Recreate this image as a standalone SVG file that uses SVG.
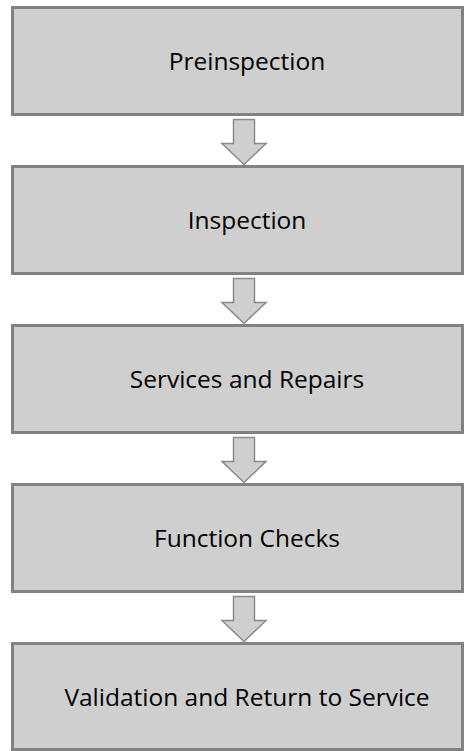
<svg xmlns="http://www.w3.org/2000/svg" width="476" height="751" viewBox="0 0 476 751">
<style>
.box{fill:#d0cfd0;stroke:#828282;stroke-width:3}
.lbl{font-family:"Open Sans",Lato,sans-serif;font-size:24.5px;fill:#000;text-anchor:middle}
.arr{fill:#d0cfd0;stroke:#8a8a8a;stroke-width:1.5;stroke-linejoin:miter}
</style>
<rect width="476" height="751" fill="#fff"/>
<g id="n1"><rect class="box" x="12.5" y="7.5" width="450" height="107"/><text class="lbl" x="247" y="70">Preinspection</text></g>
<g id="n2"><rect class="box" x="12.5" y="166.5" width="450" height="107"/><text class="lbl" x="247" y="229">Inspection</text></g>
<g id="n3"><rect class="box" x="12.5" y="325.5" width="450" height="107"/><text class="lbl" x="247" y="388">Services and Repairs</text></g>
<g id="n4"><rect class="box" x="12.5" y="484.5" width="450" height="107"/><text class="lbl" x="247" y="547">Function Checks</text></g>
<g id="n5"><rect class="box" x="12.5" y="643.5" width="450" height="106"/><text class="lbl" x="247" y="706">Validation and Return to Service</text></g>
<g id="connectors">
<path class="arr" d="M233.5 119.5h21v24h11.5l-22 21-22-21h11.5z"/>
<path class="arr" d="M233.5 278.5h21v24h11.5l-22 21-22-21h11.5z"/>
<path class="arr" d="M233.5 437.5h21v24h11.5l-22 21-22-21h11.5z"/>
<path class="arr" d="M233.5 596.5h21v24h11.5l-22 21-22-21h11.5z"/>
</g>
</svg>
